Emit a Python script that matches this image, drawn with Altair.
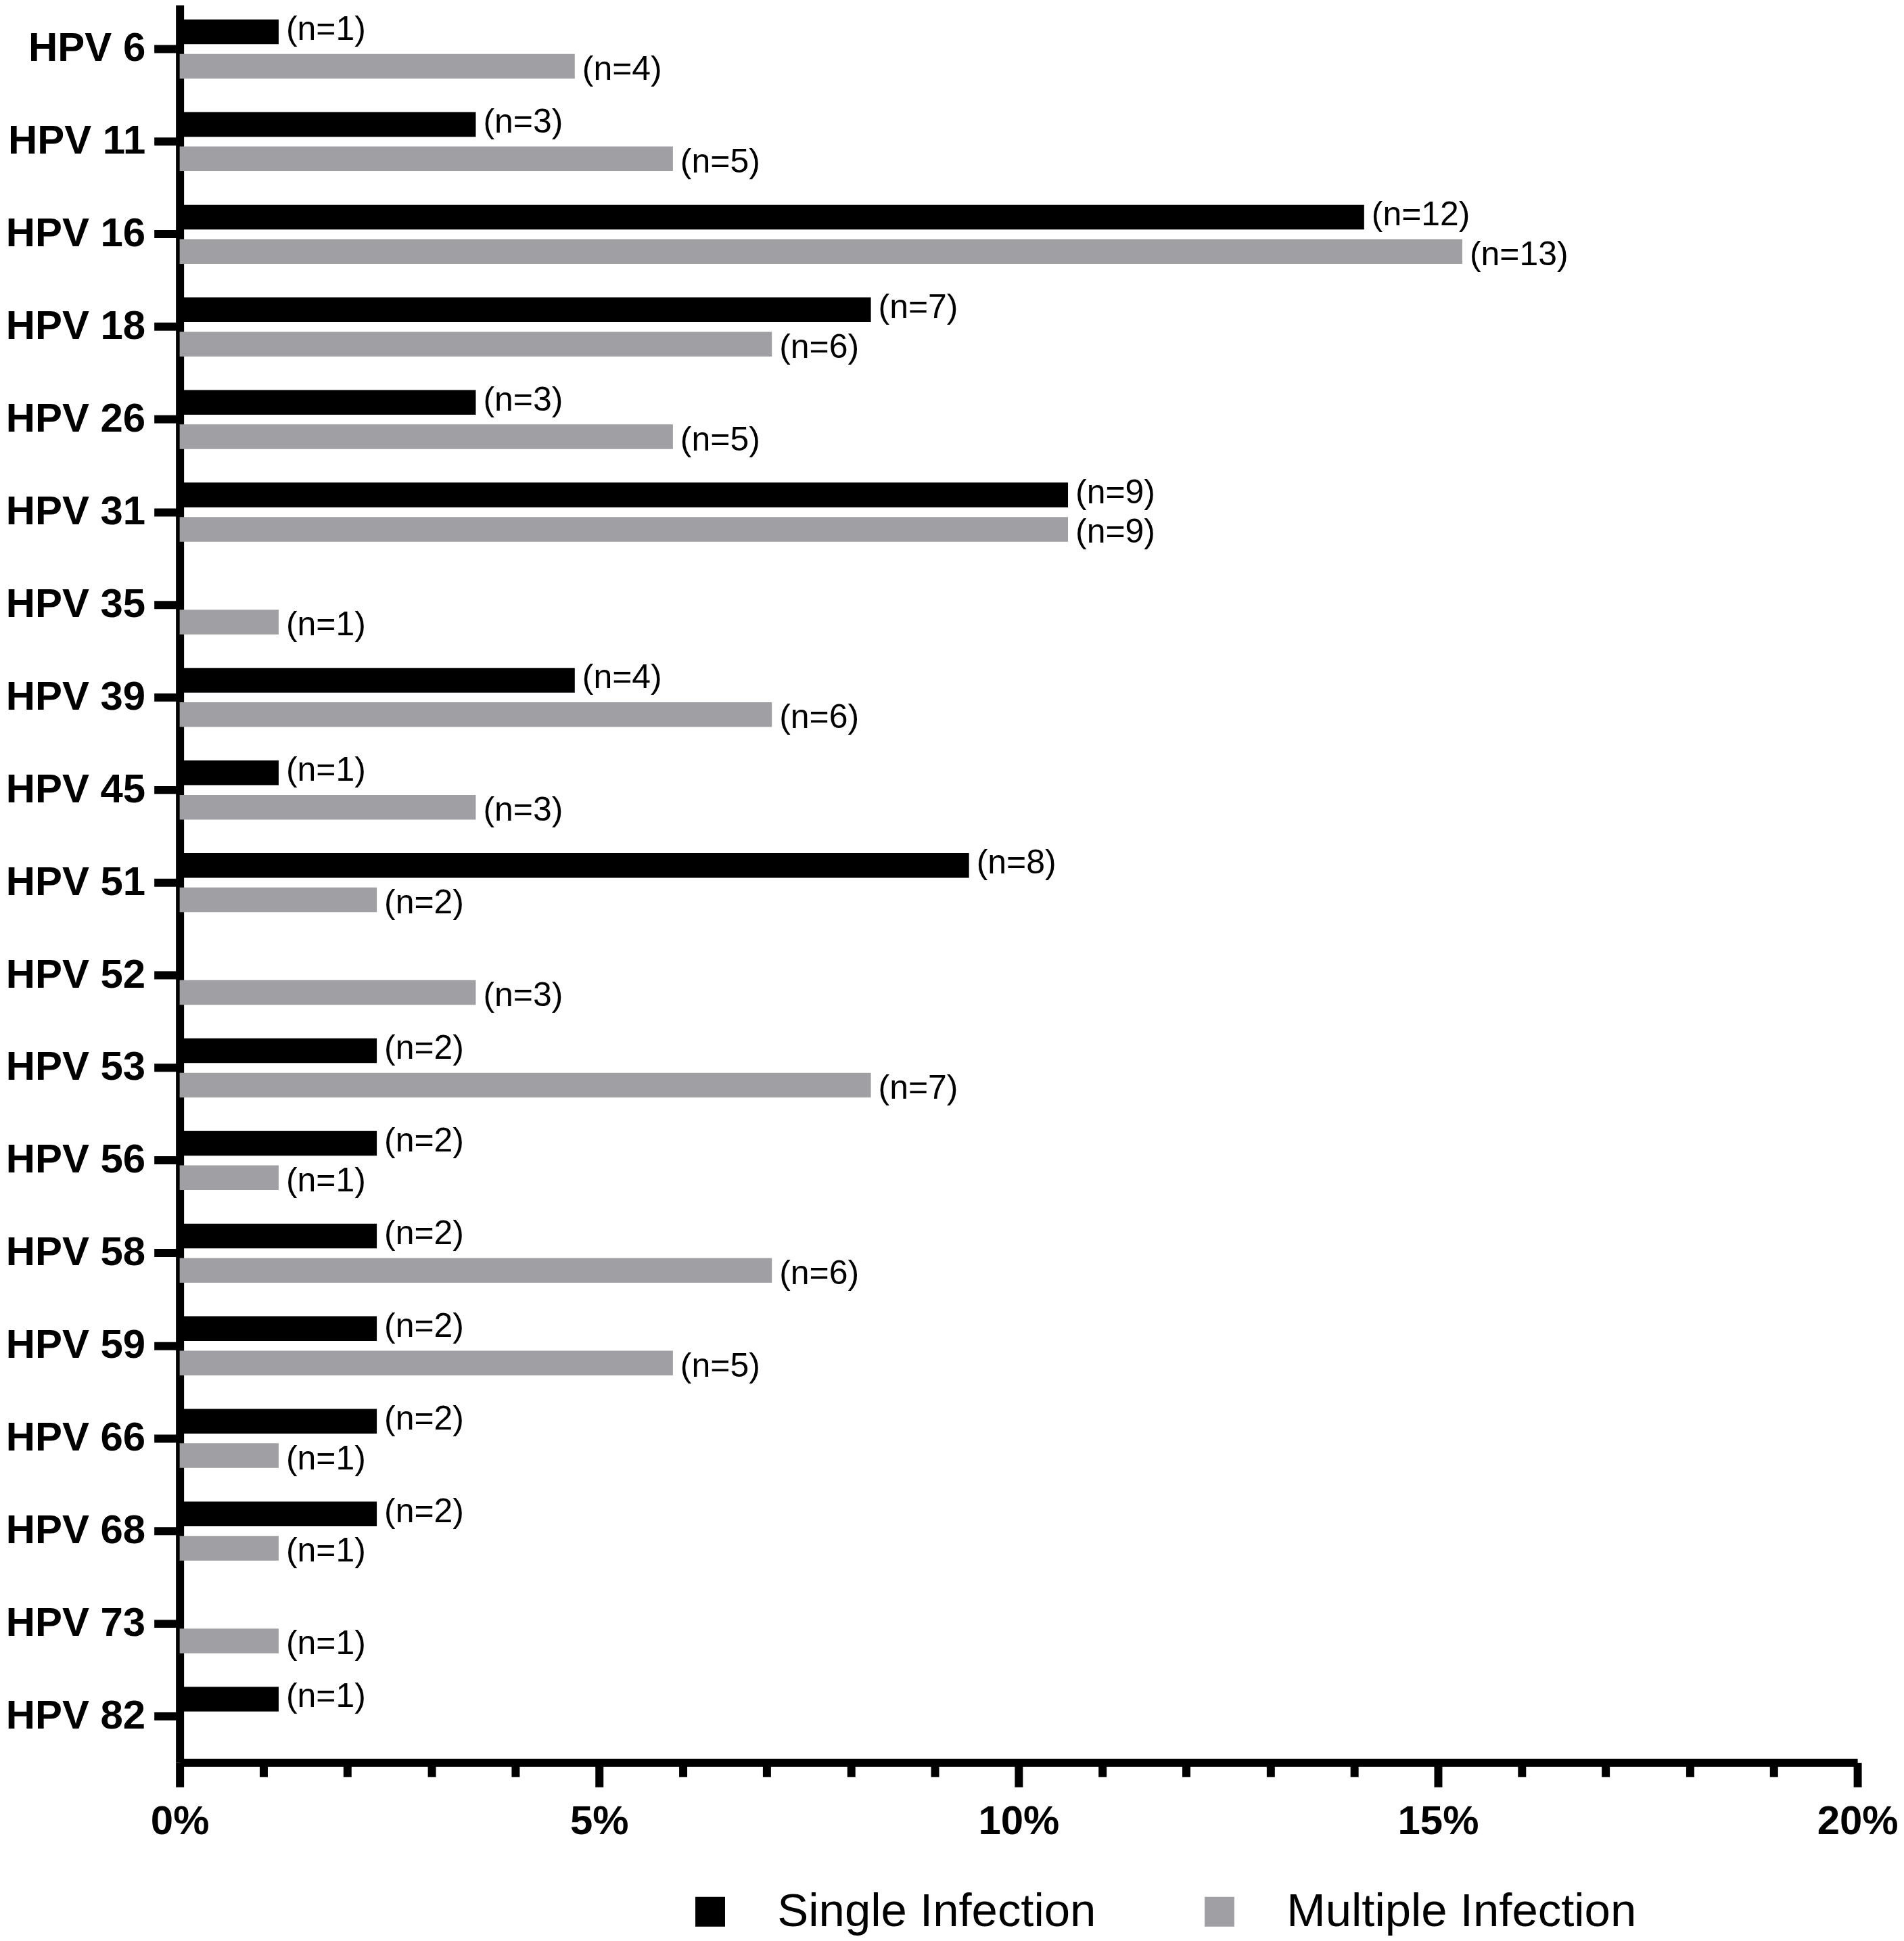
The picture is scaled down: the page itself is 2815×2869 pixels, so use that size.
import altair as alt
import pandas as pd

# ---------------- data ----------------
hpv_types = ["HPV 6", "HPV 11", "HPV 16", "HPV 18", "HPV 26", "HPV 31", "HPV 35",
             "HPV 39", "HPV 45", "HPV 51", "HPV 52", "HPV 53", "HPV 56", "HPV 58",
             "HPV 59", "HPV 66", "HPV 68", "HPV 73", "HPV 82"]
series_names = ["Single Infection", "Multiple Infection"]

single_pct = [1.18, 3.53, 14.12, 8.24, 3.53, 10.59, None, 4.71, 1.18, 9.41, None,
              2.35, 2.35, 2.35, 2.35, 2.35, 2.35, None, 1.18]
single_labels = ["(n=1)", "(n=3)", "(n=12)", "(n=7)", "(n=3)", "(n=9)", "", "(n=4)",
                 "(n=1)", "(n=8)", "", "(n=2)", "(n=2)", "(n=2)", "(n=2)", "(n=2)",
                 "(n=2)", "", "(n=1)"]

multiple_pct = [4.71, 5.88, 15.29, 7.06, 5.88, 10.59, 1.18, 7.06, 3.53, 2.35, 3.53,
                8.24, 1.18, 7.06, 5.88, 1.18, 1.18, 1.18, None]
multiple_labels = ["(n=4)", "(n=5)", "(n=13)", "(n=6)", "(n=5)", "(n=9)", "(n=1)",
                   "(n=6)", "(n=3)", "(n=2)", "(n=3)", "(n=7)", "(n=1)", "(n=6)",
                   "(n=5)", "(n=1)", "(n=1)", "(n=1)", ""]

x_tick_values = list(range(0, 21))   # every 1 %, labels every 5 %
series_colors = ["#000000", "#A0A0A4"]

rows = []
for name, pcts, labs in ((series_names[0], single_pct, single_labels),
                         (series_names[1], multiple_pct, multiple_labels)):
    for h, p, l in zip(hpv_types, pcts, labs):
        if p is None:
            continue
        rows.append({"hpv": h, "series": name, "pct": p, "label": l})
df = pd.DataFrame(rows)

FONT = "Liberation Sans"

x_enc = alt.X(
    "pct:Q",
    scale=alt.Scale(domain=[0, 20], nice=False, zero=True),
    axis=alt.Axis(
        title=None,
        values=x_tick_values,
        labelExpr="datum.value % 5 === 0 ? datum.value + '%' : ''",
        labelFont=FONT, labelFontWeight="bold", labelFontSize=60, labelColor="black",
        labelPadding=22, labelFlush=False, labelOverlap=False, labelLimit=0,
        tickSize={"condition": {"test": "datum.value % 5 === 0", "value": 36}, "value": 21},
        tickWidth=12, tickColor="black",
        domainColor="black", domainWidth=12, grid=False,
    ),
)

y_enc = alt.Y(
    "hpv:N",
    sort=hpv_types,
    scale=alt.Scale(paddingInner=0.362, paddingOuter=0.181),
    axis=alt.Axis(
        title=None,
        labelFont=FONT, labelFontWeight="bold", labelFontSize=60, labelColor="black",
        labelPadding=13, labelLimit=0, tickSize=38, tickWidth=12, tickColor="black",
        domainColor="black", domainWidth=12, grid=False,
    ),
)

yoff_enc = alt.YOffset("series:N", sort=series_names,
                       scale=alt.Scale(paddingInner=0.282, paddingOuter=0))

base = alt.Chart(df)

bars = base.mark_bar().encode(
    x=x_enc,
    y=y_enc,
    yOffset=yoff_enc,
    color=alt.Color(
        "series:N",
        sort=series_names,
        scale=alt.Scale(domain=series_names, range=series_colors),
        legend=alt.Legend(
            title=None, orient="none", legendX=751, legendY=2791,
            direction="horizontal", symbolType="square", symbolSize=1936,
            symbolStrokeWidth=0, labelFont=FONT, labelFontSize=69,
            labelColor="black", labelOffset=65, columnPadding=148,
            padding=0, labelLimit=0,
        ),
    ),
)


def label_layer(series, dy):
    return base.transform_filter(
        alt.datum.series == series
    ).mark_text(
        align="left", baseline="middle", dx=11, dy=dy,
        font=FONT, fontSize=50, color="black",
    ).encode(
        x=alt.X("pct:Q"),
        y=alt.Y("hpv:N", sort=hpv_types),
        yOffset=alt.YOffset("series:N", sort=series_names),
        text="label:N",
    )


labels_single = label_layer(series_names[0], -3)
labels_multiple = label_layer(series_names[1], 5)

chart = alt.layer(bars, labels_single, labels_multiple).properties(
    width=2484, height=2605,
    padding={"top": -6, "left": 0, "right": 0, "bottom": 0},
).configure_view(strokeWidth=0)

chart.save("out.html", embed_options={"renderer": "svg", "actions": False})
